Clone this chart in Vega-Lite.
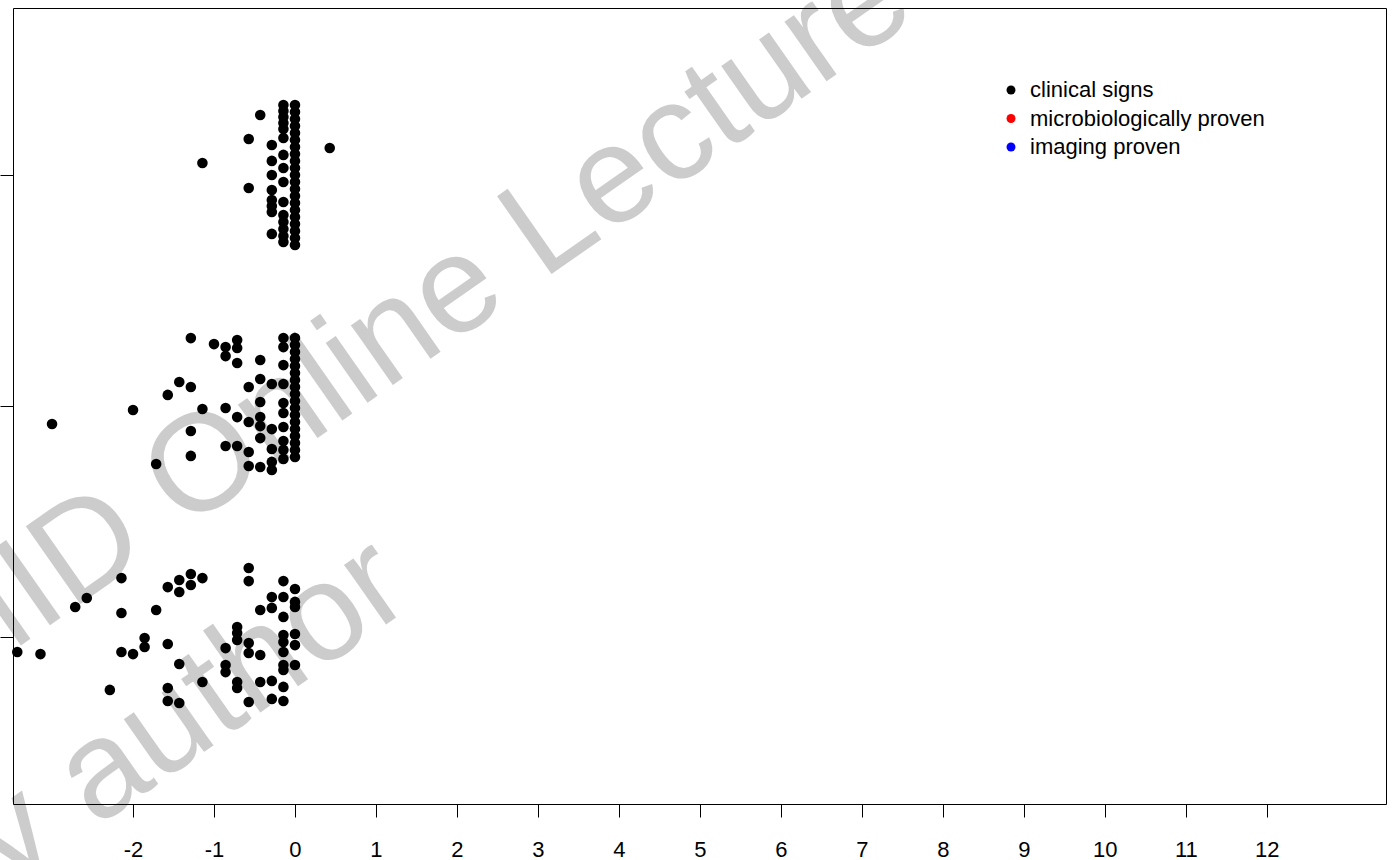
{
  "$schema": "https://vega.github.io/schema/vega-lite/v6.json",
  "width": 1373,
  "height": 796,
  "autosize": {"type": "none"},
  "padding": {"left": 13, "top": 8, "right": 7, "bottom": 56},
  "background": "white",
  "config": {"view": {"stroke": null}},
  "data": {"values": [
    {"x":0,"y":3.303,"type":"clinical signs"},{"x":0,"y":3.273,"type":"clinical signs"},{"x":0,"y":3.242,"type":"clinical signs"},{"x":0,"y":3.212,"type":"clinical signs"},{"x":0,"y":3.182,"type":"clinical signs"},{"x":0,"y":3.152,"type":"clinical signs"},{"x":0,"y":3.121,"type":"clinical signs"},{"x":0,"y":3.091,"type":"clinical signs"},{"x":0,"y":3.061,"type":"clinical signs"},{"x":0,"y":3.030,"type":"clinical signs"},{"x":0,"y":3.000,"type":"clinical signs"},{"x":0,"y":2.970,"type":"clinical signs"},{"x":0,"y":2.939,"type":"clinical signs"},{"x":0,"y":2.909,"type":"clinical signs"},{"x":0,"y":2.879,"type":"clinical signs"},{"x":0,"y":2.848,"type":"clinical signs"},{"x":0,"y":2.818,"type":"clinical signs"},{"x":0,"y":2.788,"type":"clinical signs"},{"x":0,"y":2.758,"type":"clinical signs"},{"x":0,"y":2.727,"type":"clinical signs"},{"x":0,"y":2.697,"type":"clinical signs"},
    {"x":-0.143,"y":3.303,"type":"clinical signs"},{"x":-0.143,"y":3.277,"type":"clinical signs"},{"x":-0.143,"y":3.251,"type":"clinical signs"},{"x":-0.143,"y":3.225,"type":"clinical signs"},{"x":-0.143,"y":3.199,"type":"clinical signs"},{"x":-0.143,"y":3.160,"type":"clinical signs"},{"x":-0.143,"y":3.087,"type":"clinical signs"},{"x":-0.143,"y":3.030,"type":"clinical signs"},{"x":-0.143,"y":2.970,"type":"clinical signs"},{"x":-0.143,"y":2.883,"type":"clinical signs"},{"x":-0.143,"y":2.827,"type":"clinical signs"},{"x":-0.143,"y":2.797,"type":"clinical signs"},{"x":-0.143,"y":2.766,"type":"clinical signs"},{"x":-0.143,"y":2.736,"type":"clinical signs"},{"x":-0.143,"y":2.710,"type":"clinical signs"},
    {"x":-0.286,"y":3.130,"type":"clinical signs"},{"x":-0.286,"y":3.061,"type":"clinical signs"},{"x":-0.286,"y":3.000,"type":"clinical signs"},{"x":-0.286,"y":2.935,"type":"clinical signs"},{"x":-0.286,"y":2.892,"type":"clinical signs"},{"x":-0.286,"y":2.866,"type":"clinical signs"},{"x":-0.286,"y":2.840,"type":"clinical signs"},{"x":-0.286,"y":2.745,"type":"clinical signs"},
    {"x":-0.429,"y":3.260,"type":"clinical signs"},{"x":-0.571,"y":3.156,"type":"clinical signs"},{"x":-0.571,"y":2.944,"type":"clinical signs"},{"x":-1.143,"y":3.052,"type":"clinical signs"},{"x":0.429,"y":3.117,"type":"clinical signs"},
    {"x":-3.0,"y":1.922,"type":"clinical signs"},{"x":-2.0,"y":1.983,"type":"clinical signs"},{"x":-1.714,"y":1.749,"type":"clinical signs"},{"x":-1.571,"y":2.048,"type":"clinical signs"},{"x":-1.429,"y":2.104,"type":"clinical signs"},{"x":-1.286,"y":2.082,"type":"clinical signs"},{"x":-1.286,"y":2.294,"type":"clinical signs"},{"x":-1.286,"y":1.892,"type":"clinical signs"},{"x":-1.286,"y":1.784,"type":"clinical signs"},{"x":-1.143,"y":1.987,"type":"clinical signs"},{"x":-1.0,"y":2.268,"type":"clinical signs"},
    {"x":-0.857,"y":2.255,"type":"clinical signs"},{"x":-0.857,"y":2.216,"type":"clinical signs"},{"x":-0.857,"y":1.991,"type":"clinical signs"},{"x":-0.857,"y":1.827,"type":"clinical signs"},
    {"x":-0.714,"y":2.286,"type":"clinical signs"},{"x":-0.714,"y":2.251,"type":"clinical signs"},{"x":-0.714,"y":2.186,"type":"clinical signs"},{"x":-0.714,"y":1.952,"type":"clinical signs"},{"x":-0.714,"y":1.827,"type":"clinical signs"},
    {"x":-0.571,"y":2.082,"type":"clinical signs"},{"x":-0.571,"y":1.931,"type":"clinical signs"},{"x":-0.571,"y":1.801,"type":"clinical signs"},{"x":-0.571,"y":1.740,"type":"clinical signs"},
    {"x":-0.429,"y":2.199,"type":"clinical signs"},{"x":-0.429,"y":2.117,"type":"clinical signs"},{"x":-0.429,"y":2.017,"type":"clinical signs"},{"x":-0.429,"y":1.952,"type":"clinical signs"},{"x":-0.429,"y":1.913,"type":"clinical signs"},{"x":-0.429,"y":1.861,"type":"clinical signs"},{"x":-0.429,"y":1.736,"type":"clinical signs"},
    {"x":-0.286,"y":2.095,"type":"clinical signs"},{"x":-0.286,"y":1.900,"type":"clinical signs"},{"x":-0.286,"y":1.814,"type":"clinical signs"},{"x":-0.286,"y":1.758,"type":"clinical signs"},{"x":-0.286,"y":1.723,"type":"clinical signs"},
    {"x":-0.143,"y":2.294,"type":"clinical signs"},{"x":-0.143,"y":2.255,"type":"clinical signs"},{"x":-0.143,"y":2.177,"type":"clinical signs"},{"x":-0.143,"y":2.095,"type":"clinical signs"},{"x":-0.143,"y":2.013,"type":"clinical signs"},{"x":-0.143,"y":1.970,"type":"clinical signs"},{"x":-0.143,"y":1.909,"type":"clinical signs"},{"x":-0.143,"y":1.848,"type":"clinical signs"},{"x":-0.143,"y":1.810,"type":"clinical signs"},{"x":-0.143,"y":1.771,"type":"clinical signs"},
    {"x":0,"y":2.294,"type":"clinical signs"},{"x":0,"y":2.264,"type":"clinical signs"},{"x":0,"y":2.234,"type":"clinical signs"},{"x":0,"y":2.203,"type":"clinical signs"},{"x":0,"y":2.173,"type":"clinical signs"},{"x":0,"y":2.143,"type":"clinical signs"},{"x":0,"y":2.113,"type":"clinical signs"},{"x":0,"y":2.082,"type":"clinical signs"},{"x":0,"y":2.052,"type":"clinical signs"},{"x":0,"y":2.022,"type":"clinical signs"},{"x":0,"y":1.991,"type":"clinical signs"},{"x":0,"y":1.961,"type":"clinical signs"},{"x":0,"y":1.931,"type":"clinical signs"},{"x":0,"y":1.900,"type":"clinical signs"},{"x":0,"y":1.870,"type":"clinical signs"},{"x":0,"y":1.840,"type":"clinical signs"},{"x":0,"y":1.810,"type":"clinical signs"},{"x":0,"y":1.779,"type":"clinical signs"},
    {"x":-3.429,"y":0.935,"type":"clinical signs"},{"x":-3.143,"y":0.926,"type":"clinical signs"},{"x":-2.714,"y":1.130,"type":"clinical signs"},{"x":-2.571,"y":1.169,"type":"clinical signs"},{"x":-2.286,"y":0.771,"type":"clinical signs"},{"x":-2.143,"y":1.255,"type":"clinical signs"},{"x":-2.143,"y":1.104,"type":"clinical signs"},{"x":-2.143,"y":0.935,"type":"clinical signs"},{"x":-2.0,"y":0.926,"type":"clinical signs"},{"x":-1.857,"y":0.996,"type":"clinical signs"},{"x":-1.857,"y":0.957,"type":"clinical signs"},{"x":-1.714,"y":1.117,"type":"clinical signs"},
    {"x":-1.571,"y":1.216,"type":"clinical signs"},{"x":-1.571,"y":0.970,"type":"clinical signs"},{"x":-1.571,"y":0.779,"type":"clinical signs"},{"x":-1.571,"y":0.723,"type":"clinical signs"},
    {"x":-1.429,"y":1.247,"type":"clinical signs"},{"x":-1.429,"y":1.195,"type":"clinical signs"},{"x":-1.429,"y":0.883,"type":"clinical signs"},{"x":-1.429,"y":0.714,"type":"clinical signs"},
    {"x":-1.286,"y":1.273,"type":"clinical signs"},{"x":-1.286,"y":1.225,"type":"clinical signs"},{"x":-1.143,"y":1.255,"type":"clinical signs"},{"x":-1.143,"y":0.805,"type":"clinical signs"},
    {"x":-0.857,"y":0.952,"type":"clinical signs"},{"x":-0.857,"y":0.879,"type":"clinical signs"},{"x":-0.857,"y":0.848,"type":"clinical signs"},
    {"x":-0.714,"y":1.043,"type":"clinical signs"},{"x":-0.714,"y":1.017,"type":"clinical signs"},{"x":-0.714,"y":0.987,"type":"clinical signs"},{"x":-0.714,"y":0.805,"type":"clinical signs"},{"x":-0.714,"y":0.779,"type":"clinical signs"},
    {"x":-0.571,"y":1.299,"type":"clinical signs"},{"x":-0.571,"y":1.242,"type":"clinical signs"},{"x":-0.571,"y":0.974,"type":"clinical signs"},{"x":-0.571,"y":0.931,"type":"clinical signs"},{"x":-0.571,"y":0.719,"type":"clinical signs"},
    {"x":-0.429,"y":1.117,"type":"clinical signs"},{"x":-0.429,"y":0.922,"type":"clinical signs"},{"x":-0.429,"y":0.805,"type":"clinical signs"},
    {"x":-0.286,"y":1.173,"type":"clinical signs"},{"x":-0.286,"y":1.126,"type":"clinical signs"},{"x":-0.286,"y":0.810,"type":"clinical signs"},{"x":-0.286,"y":0.732,"type":"clinical signs"},
    {"x":-0.143,"y":1.242,"type":"clinical signs"},{"x":-0.143,"y":1.173,"type":"clinical signs"},{"x":-0.143,"y":1.087,"type":"clinical signs"},{"x":-0.143,"y":1.009,"type":"clinical signs"},{"x":-0.143,"y":0.978,"type":"clinical signs"},{"x":-0.143,"y":0.935,"type":"clinical signs"},{"x":-0.143,"y":0.879,"type":"clinical signs"},{"x":-0.143,"y":0.857,"type":"clinical signs"},{"x":-0.143,"y":0.784,"type":"clinical signs"},{"x":-0.143,"y":0.723,"type":"clinical signs"},
    {"x":0,"y":1.208,"type":"clinical signs"},{"x":0,"y":1.152,"type":"clinical signs"},{"x":0,"y":1.130,"type":"clinical signs"},{"x":0,"y":1.013,"type":"clinical signs"},{"x":0,"y":0.965,"type":"clinical signs"},{"x":0,"y":0.879,"type":"clinical signs"}
  ]},
  "layer": [
    {
      "data": {"values": [
        {"wm": "ESCMID Online Lecture Library", "x": -7.187, "y": 0.030},
        {"wm": "© by author", "x": -5.742, "y": -0.632}
      ]},
      "mark": {"type": "text", "align": "left", "baseline": "alphabetic", "angle": 325, "fontSize": 138, "font": "Liberation Sans", "color": "#cccccc"},
      "encoding": {
        "x": {"field": "x", "type": "quantitative", "scale": {"domain": [-3.482, 13.472], "nice": false, "zero": false}, "axis": null},
        "y": {"field": "y", "type": "quantitative", "scale": {"domain": [0.2771, 3.7229], "nice": false, "zero": false}, "axis": null},
        "text": {"field": "wm"}
      }
    },
    {
      "mark": {"type": "circle", "size": 112, "opacity": 1},
      "encoding": {
        "x": {"field": "x", "type": "quantitative", "scale": {"domain": [-3.482, 13.472], "nice": false, "zero": false},
          "axis": {"orient": "bottom", "values": [-2,-1,0,1,2,3,4,5,6,7,8,9,10,11,12], "labelExpr": "'' + datum.value", "title": null, "grid": false, "tickSize": 13, "tickColor": "black", "tickWidth": 1, "domainColor": "black", "domainWidth": 1, "labelFont": "Liberation Sans", "labelFontSize": 22, "labelColor": "black", "labelBaseline": "alphabetic", "labelPadding": 39, "labelFlush": false, "labelOverlap": false, "zindex": 1}},
        "y": {"field": "y", "type": "quantitative", "scale": {"domain": [0.2771, 3.7229], "nice": false, "zero": false},
          "axis": {"orient": "left", "values": [1,2,3], "title": null, "grid": false, "labels": false, "tickSize": 13, "tickColor": "black", "tickWidth": 1, "domainColor": "black", "domainWidth": 1, "zindex": 1}},
        "color": {"field": "type", "type": "nominal",
          "scale": {"domain": ["clinical signs", "microbiologically proven", "imaging proven"], "range": ["black", "red", "blue"]},
          "legend": {"orient": "none", "legendX": 987, "legendY": 71, "title": null, "labelFont": "Liberation Sans", "labelFontSize": 22, "labelColor": "black", "labelLimit": 500, "symbolSize": 80, "symbolType": "circle", "symbolStrokeWidth": 0, "labelOffset": 8, "rowPadding": 6.5, "padding": 0}}
      }
    },
    {
      "mark": {"type": "circle", "size": 1, "opacity": 0},
      "encoding": {
        "x": {"field": "x", "type": "quantitative", "scale": {"domain": [-3.482, 13.472], "nice": false, "zero": false},
          "axis": {"orient": "top", "title": null, "grid": false, "labels": false, "ticks": false, "domainColor": "black", "domainWidth": 1, "zindex": 1}},
        "y": {"field": "y", "type": "quantitative", "scale": {"domain": [0.2771, 3.7229], "nice": false, "zero": false},
          "axis": {"orient": "right", "title": null, "grid": false, "labels": false, "ticks": false, "domainColor": "black", "domainWidth": 1, "zindex": 1}}
      }
    }
  ],
  "resolve": {"axis": {"x": "independent", "y": "independent"}}
}
